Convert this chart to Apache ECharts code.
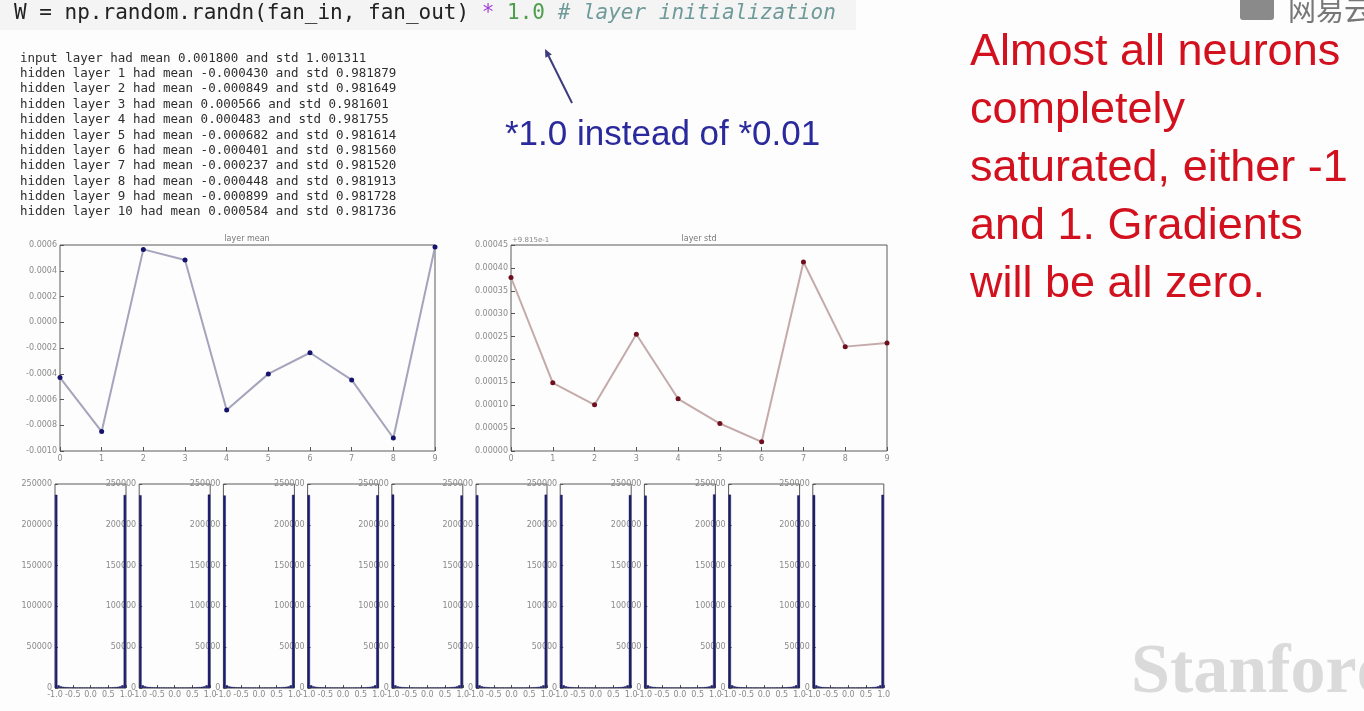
<!DOCTYPE html>
<html><head><meta charset="utf-8">
<script src="https://cdn.jsdelivr.net/npm/echarts@6/dist/echarts.min.js"></script>
<style>html,body{margin:0;padding:0;background:#fdfdfd;overflow:hidden}#c{width:1364px;height:711px}</style>
</head><body><div id="c"></div>
<script>
// ---------------- data ----------------
const layerIdx = [0,1,2,3,4,5,6,7,8,9];
const inputMean = 0.001800;
const inputStd = 1.001311;
const layerMeans = [-0.000430,-0.000849,0.000566,0.000483,-0.000682,-0.000401,-0.000237,-0.000448,-0.000899,0.000584];
const layerStds  = [0.981879,0.981649,0.981601,0.981755,0.981614,0.981560,0.981520,0.981913,0.981728,0.981736];
const meanAxis = {min:-0.0010, max:0.0006, step:0.0002};
const stdAxis  = {min:0.98150, max:0.98195, step:0.00005};
const stdOffset = 0.9815;
const stdOffsetLabel = '+9.815e-1';
const histBinCenters = [-0.967,-0.900,-0.833,-0.767,-0.700,-0.633,-0.567,-0.500,-0.433,-0.367,-0.300,-0.233,-0.167,-0.100,-0.033,0.033,0.100,0.167,0.233,0.300,0.367,0.433,0.500,0.567,0.633,0.700,0.767,0.833,0.900,0.967];
const histXAxis = {min:-1.0, max:1.0, step:0.5};
const histYAxis = {min:0, max:250000, step:50000};
const hist1  = [236800,3300,2010,1430,1120,930,805,720,665,630,612,600,596,590,588,592,590,594,601,611,628,668,722,802,928,1118,1425,2004,3310,236500];
const hist2  = [236200,3340,2030,1410,1130,925,798,725,660,634,608,603,592,587,594,589,595,591,598,607,633,662,716,806,935,1124,1418,2020,3290,237000];
const hist3  = [235900,3280,1995,1440,1115,940,810,715,670,626,615,598,590,595,590,586,593,597,604,614,624,671,728,798,921,1130,1432,1990,3325,236700];
const hist4  = [236500,3310,2015,1425,1125,928,803,722,663,631,611,601,594,589,591,590,592,596,600,609,630,665,719,804,931,1121,1422,2010,3305,236300];
const hist5  = [237100,3295,2005,1435,1118,933,801,718,667,629,613,599,593,592,589,591,588,595,602,612,627,669,724,800,926,1127,1429,1998,3318,236000];
const hist6  = [236300,3320,2025,1418,1128,927,807,723,661,633,609,602,595,588,592,593,590,593,599,608,632,663,717,808,933,1119,1420,2016,3296,236900];
const hist7  = [236700,3305,2008,1428,1122,931,799,721,664,630,614,600,591,594,587,588,594,598,603,610,629,667,721,803,929,1123,1427,2006,3302,236400];
const hist8  = [235800,3330,2018,1433,1117,936,804,717,668,627,610,604,597,590,593,592,589,592,597,613,626,664,725,801,924,1126,1434,2013,3321,237200];
const hist9  = [236900,3290,2002,1421,1126,929,806,724,662,632,616,597,593,591,590,589,596,594,605,606,631,670,718,805,934,1116,1419,2001,3298,236100];
const hist10 = [236400,3315,2012,1437,1121,934,802,719,666,628,611,603,589,593,588,594,591,597,600,615,625,666,723,799,930,1129,1431,2009,3312,236800];
const histData = [hist1,hist2,hist3,hist4,hist5,hist6,hist7,hist8,hist9,hist10];

// ---------------- layout / style ----------------
const small = {fontSize:8, color:'#8a8a8a', fontFamily:'DejaVu Sans'};
const frame = {show:true, borderColor:'#5a5a5a', borderWidth:1, backgroundColor:'transparent', outerBoundsMode:'none'};
const noLine = {show:false, onZero:false};
const tick = len => ({inside:true, length:len, lineStyle:{color:'#555'}});

const grids = [
  Object.assign({left:60, top:245, width:375, height:206}, frame),
  Object.assign({left:511, top:245, width:376, height:206}, frame)
];
for (let k=0;k<10;k++) grids.push(Object.assign({left:55+84.2*k, top:484, width:71, height:204}, frame));

const xAxes = [
  {gridIndex:0, type:'value', min:0, max:9, interval:1, axisLine:noLine, splitLine:{show:false},
   axisTick:tick(4), axisLabel:Object.assign({margin:4}, small)},
  {gridIndex:1, type:'value', min:0, max:9, interval:1, axisLine:noLine, splitLine:{show:false},
   axisTick:tick(4), axisLabel:Object.assign({margin:4}, small)}
];
const yAxes = [
  {gridIndex:0, type:'value', min:meanAxis.min, max:meanAxis.max, interval:meanAxis.step, axisLine:noLine, splitLine:{show:false},
   axisTick:tick(4), axisLabel:Object.assign({margin:3, formatter:v=>v.toFixed(4)}, small)},
  {gridIndex:1, type:'value', min:stdAxis.min, max:stdAxis.max, interval:stdAxis.step, axisLine:noLine, splitLine:{show:false},
   axisTick:tick(4), axisLabel:Object.assign({margin:3, formatter:v=>(v-stdOffset).toFixed(5)}, small)}
];
const series = [
  {type:'line', xAxisIndex:0, yAxisIndex:0, data:layerIdx.map((x,i)=>[x, layerMeans[i]]),
   lineStyle:{color:'#a4a4bc', width:2}, symbol:'circle', symbolSize:5, itemStyle:{color:'#14146e'}, animation:false},
  {type:'line', xAxisIndex:1, yAxisIndex:1, data:layerIdx.map((x,i)=>[x, layerStds[i]]),
   lineStyle:{color:'#c4aaaa', width:2}, symbol:'circle', symbolSize:5, itemStyle:{color:'#6e0f1e'}, animation:false}
];
for (let k=0;k<10;k++){
  const g = 2+k;
  xAxes.push({gridIndex:g, type:'category', data:histBinCenters, show:false, boundaryGap:true, axisLine:noLine});
  xAxes.push({gridIndex:g, type:'value', position:'bottom', min:histXAxis.min, max:histXAxis.max, interval:histXAxis.step,
    axisLine:noLine, splitLine:{show:false}, axisTick:tick(3),
    axisLabel:Object.assign({margin:3, showMinLabel:true, showMaxLabel:true, hideOverlap:false, formatter:v=>v.toFixed(1)}, small)});
  yAxes.push({gridIndex:g, type:'value', min:histYAxis.min, max:histYAxis.max, interval:histYAxis.step,
    axisLine:noLine, splitLine:{show:false}, axisTick:tick(3),
    axisLabel:Object.assign({margin:3, showMinLabel:true, showMaxLabel:true, formatter:v=>String(Math.round(v))}, small)});
  series.push({type:'bar', xAxisIndex:2+2*k, yAxisIndex:g, data:histData[k], barCategoryGap:'0%',
    itemStyle:{color:'#1e1e7c', borderColor:'#10104a', borderWidth:0.4}, animation:false, silent:true});
}

// ---------------- texts ----------------
const printLines = ['input layer had mean ' + inputMean.toFixed(6) + ' and std ' + inputStd.toFixed(6)]
  .concat(layerMeans.map((m,i)=>'hidden layer ' + (i+1) + ' had mean ' + m.toFixed(6) + ' and std ' + layerStds[i].toFixed(6)));
const noteLines = ['Almost all neurons', 'completely', 'saturated, either -1', 'and 1. Gradients', 'will be all zero.'];

const graphic = [
  {type:'rect', shape:{x:0, y:0, width:856, height:30}, style:{fill:'#f4f4f4'}, silent:true},
  {type:'text', x:14, y:14, style:{
     text:'{a|W = np.random.randn(fan_in, fan_out) }{b|*}{a| }{c|1.0}{a| }{d|# layer initialization}',
     verticalAlign:'middle', font:'21px "DejaVu Sans Mono"',
     rich:{a:{fill:'#222', font:'21px "DejaVu Sans Mono"'}, b:{fill:'#a03cd8', font:'21px "DejaVu Sans Mono"'},
           c:{fill:'#4e9e4e', font:'21px "DejaVu Sans Mono"'}, d:{fill:'#6f9a9a', font:'italic 21px "DejaVu Sans Mono"'}}}},
  {type:'text', x:247, y:239, style:{text:'layer mean', align:'center', verticalAlign:'middle', font:'8px "DejaVu Sans"', fill:'#777'}},
  {type:'text', x:699, y:239, style:{text:'layer std', align:'center', verticalAlign:'middle', font:'8px "DejaVu Sans"', fill:'#777'}},
  {type:'text', x:512, y:240, style:{text:stdOffsetLabel, align:'left', verticalAlign:'middle', font:'7px "DejaVu Sans"', fill:'#888'}},
  {type:'line', shape:{x1:572, y1:103, x2:548.6, y2:56}, style:{stroke:'#3c3c7c', lineWidth:2}},
  {type:'polygon', shape:{points:[[545,49],[551.8,54.6],[545.4,57.8]]}, style:{fill:'#3c3c7c'}},
  {type:'text', x:505, y:135, style:{text:'*1.0 instead of *0.01', verticalAlign:'middle', font:'35px "Liberation Sans"', fill:'#2a2a9c'}},
  {type:'rect', shape:{x:1240, y:-6, width:34, height:26, r:3}, style:{fill:'#8a8a8a'}},
  {type:'text', x:1288, y:24, style:{text:'网易云课堂', verticalAlign:'bottom', font:'28px "Noto Sans CJK SC"', fill:'#777'}},
  {type:'text', x:1131, y:674, style:{text:'Stanford', verticalAlign:'middle', font:'bold 70px "Liberation Serif"', fill:'#dadada'}}
];
printLines.forEach((t,i)=>graphic.push({type:'text', x:20, y:58.5+15.35*i,
  style:{text:t, verticalAlign:'middle', font:'12.5px "DejaVu Sans Mono"', fill:'#2e2e2e'}}));
noteLines.forEach((t,i)=>graphic.push({type:'text', x:970, y:53+58*i,
  style:{text:t, verticalAlign:'middle', font:'45px "Liberation Sans"', fill:'#d2101e'}}));

const chart = echarts.init(document.getElementById('c'), null, {renderer:'canvas'});
chart.setOption({
  backgroundColor:'#fdfdfd',
  animation:false,
  grid:grids, xAxis:xAxes, yAxis:yAxes, series:series, graphic:graphic
});
</script></body></html>
